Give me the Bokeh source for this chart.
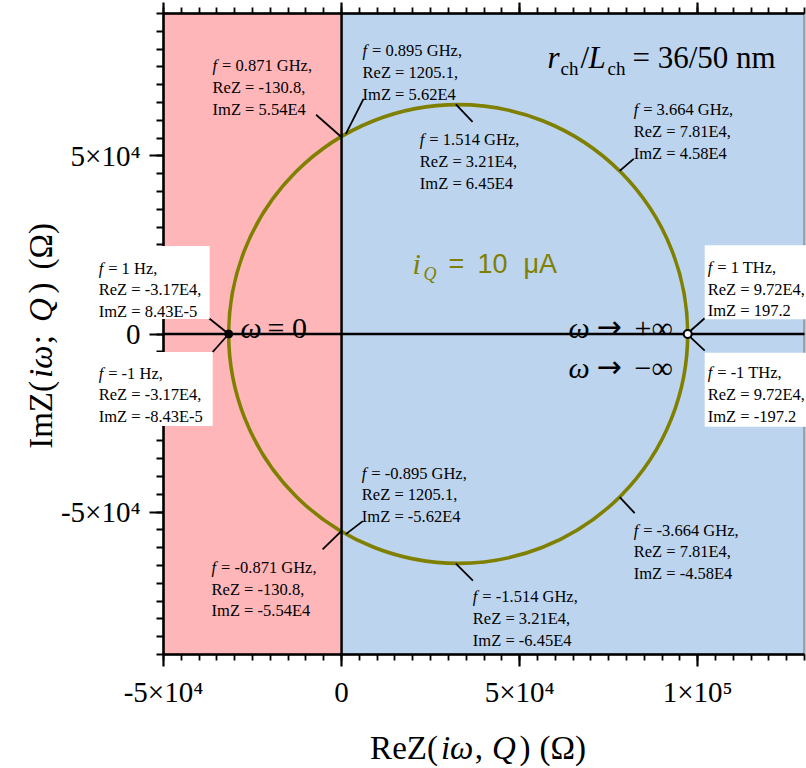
from math import pi
from bokeh.plotting import figure
from bokeh.models import Range1d, LinearAxis, FixedTicker, BoxAnnotation, Label
from bokeh.embed import file_html
from bokeh.resources import INLINE

# ---------------- data ----------------
freq_labels = ["0.871 GHz", "0.895 GHz", "1.514 GHz", "3.664 GHz",
               "1 Hz", "-1 Hz", "1 THz", "-1 THz",
               "-0.871 GHz", "-0.895 GHz", "-1.514 GHz", "-3.664 GHz"]
re_z = [-130.8, 1205.1, 3.21e4, 7.81e4,
        -3.17e4, -3.17e4, 9.72e4, 9.72e4,
        -130.8, 1205.1, 3.21e4, 7.81e4]
im_z = [5.54e4, 5.62e4, 6.45e4, 4.58e4,
        8.43e-5, -8.43e-5, 197.2, -197.2,
        -5.54e4, -5.62e4, -6.45e4, -4.58e4]
re_z_text = ["-130.8", "1205.1", "3.21E4", "7.81E4",
             "-3.17E4", "-3.17E4", "9.72E4", "9.72E4",
             "-130.8", "1205.1", "3.21E4", "7.81E4"]
im_z_text = ["5.54E4", "5.62E4", "6.45E4", "4.58E4",
             "8.43E-5", "-8.43E-5", "197.2", "-197.2",
             "-5.54E4", "-5.62E4", "-6.45E4", "-4.58E4"]
re_omega_zero = -3.17e4   # omega = 0 end of the loop
re_omega_inf = 9.72e4     # omega -> +/- infinity end of the loop

x_ticks = [-5e4, 0, 5e4, 1e5]
x_tick_labels = ["-5×10⁴", "0", "5×10⁴", "1×10⁵"]
y_ticks = [-5e4, 0, 5e4]
y_tick_labels = ["-5×10⁴", "0", "5×10⁴"]
x_minor = [-5e4 + 5e3 * k for k in range(37)]
y_minor = [-9e4 + 5e3 * k for k in range(37)]

# ---------------- layout ----------------
W, H = 806, 768
FL, FT = 163, 13          # pixel position of the plot box's top-left corner
FW, FH = 641, 641         # pixel size of the plot box
X0, X1, Y0, Y1 = -5e4, 1.3e5, -9e4, 9e4   # visible axis limits
SX = FW / (X1 - X0)
SY = FH / (Y1 - Y0)


def X(px):
    return X0 + (px - FL) / SX


def Y(py):
    return Y1 - (py - FT) / SY


SERIF = "Liberation Serif"
SANS = "Liberation Sans"
OLIVE = "#808000"
PINK = "#FFB6B9"
BLUE = "#BDD4EE"

# the frame covers the whole canvas; axes are pinned at the plot-box edges
p = figure(width=W, height=H, x_range=Range1d(X(0), X(W)), y_range=Range1d(Y(H), Y(0)),
           output_backend="svg", toolbar_location=None,
           min_border_left=0, min_border_right=0, min_border_top=0, min_border_bottom=0)
p.grid.visible = False
p.outline_line_color = None
p.background_fill_color = "white"
p.border_fill_color = "white"


def style_axis(ax, ticker, labels, tick_out, minor_out):
    ax.ticker = ticker
    ax.major_label_overrides = labels
    ax.axis_line_color = "black"
    ax.axis_line_width = 2.5
    ax.major_tick_in = 0
    ax.major_tick_out = tick_out
    ax.minor_tick_in = 0
    ax.minor_tick_out = minor_out
    ax.major_tick_line_width = 2.2
    ax.minor_tick_line_width = 1.8
    ax.major_tick_line_color = "black"
    ax.minor_tick_line_color = "black"
    ax.major_label_text_font = SERIF
    ax.major_label_text_font_size = "29px"
    ax.major_label_text_color = "black"
    ax.major_label_standoff = 9
    ax.axis_label = None


xt = FixedTicker(ticks=x_ticks, minor_ticks=x_minor)
yt = FixedTicker(ticks=y_ticks, minor_ticks=y_minor)
xa = p.xaxis[0]
ya = p.yaxis[0]
style_axis(xa, xt, dict(zip(x_ticks, x_tick_labels)), 12, 6)
style_axis(ya, yt, dict(zip(y_ticks, y_tick_labels)), 14, 7)
xa.fixed_location = Y0
xa.bounds = (X0, X1)
ya.fixed_location = X0
ya.bounds = (Y0, Y1)

top = LinearAxis()
style_axis(top, FixedTicker(ticks=x_ticks, minor_ticks=x_minor), {t: "" for t in x_ticks}, 11, 6)
top.major_label_text_font_size = "0px"
top.major_label_standoff = 0
top.fixed_location = Y1
top.bounds = (X0, X1)
p.add_layout(top, "above")

# background halves
p.add_layout(BoxAnnotation(left=X0, right=0, bottom=Y0, top=Y1, fill_color=PINK,
                           fill_alpha=1, line_color=None, level="underlay"))
p.add_layout(BoxAnnotation(left=0, right=X1, bottom=Y0, top=Y1, fill_color=BLUE,
                           fill_alpha=1, line_color=None, level="underlay"))

# the impedance loop (circle through the omega=0 and omega->inf ends)
cx = (re_omega_zero + re_omega_inf) / 2
rad = (re_omega_inf - re_omega_zero) / 2
p.circle(x=[cx], y=[0.0], radius=rad, fill_color=None, line_color=OLIVE, line_width=3.6)

# axes through the origin
p.segment(x0=[X0, 0], y0=[0, Y0], x1=[X1, 0], y1=[0, Y1], line_color="black", line_width=2.5)

# annotation layout (pixel offsets from the marked point, y pointing down)
text_off = [(-128.5, -71), (16.7, -83), (-36, 35.6), (14, -61),
            (-130, -66), (-130, 39), (20, -66), (20, 38),
            (-129.5, 36), (16, -61), (17, 33), (14, 33)]
leader_end = [(-25, -22), (17.7, -35), (16.7, 17.6), (14, -12),
              (-20, -16), (-16, 18), (17, -15), (17, 16),
              (-18.5, 18), (17, -13), (17, 17), (15, 16)]
boxes = {4: (-146, -19, -88, -15), 5: (-146, -16, 18, 92),
         6: (17, 125, -88, -14), 7: (17, 125, 18, 92)}
LH = 21.8

p.segment(x0=re_z, y0=im_z,
          x1=[r + e[0] / SX for r, e in zip(re_z, leader_end)],
          y1=[i - e[1] / SY for i, e in zip(im_z, leader_end)],
          line_color="black", line_width=1.8)

p.scatter(x=[re_omega_inf], y=[0.0], size=8, fill_color="white", line_color="black", line_width=2)
p.scatter(x=[re_omega_zero], y=[0.0], size=8, fill_color="black", line_color="black")

# plot box outline
p.add_layout(BoxAnnotation(left=X0, right=X1, bottom=Y0, top=Y1, fill_alpha=0,
                           line_color="black", line_width=2.5, level="annotation"))

# white boxes behind the +/-1 Hz and +/-1 THz labels
for idx, (l, r, t, b) in boxes.items():
    p.add_layout(BoxAnnotation(left=re_z[idx] + l / SX, right=re_z[idx] + r / SX,
                               top=im_z[idx] - t / SY, bottom=im_z[idx] - b / SY,
                               fill_color="white", fill_alpha=1, line_color=None,
                               level="annotation"))


def add_text(x, y, text, size, style="normal", font=SERIF, color="black", angle=0.0):
    p.add_layout(Label(x=x, y=y, text=text, text_font=font, text_font_size=size,
                       text_font_style=style, text_color=color, text_align="left",
                       text_baseline="alphabetic", angle=angle))


FS = "16.5px"
for i in range(len(freq_labels)):
    dx, dy = text_off[i]
    x0 = re_z[i] + dx / SX
    y1 = im_z[i] - dy / SY
    add_text(x0, y1, "f", FS, "italic")
    add_text(x0 + 9.5 / SX, y1, "= " + freq_labels[i] + ",", FS)
    add_text(x0, im_z[i] - (dy + LH) / SY, "ReZ = " + re_z_text[i] + ",", FS)
    add_text(x0, im_z[i] - (dy + 2 * LH) / SY, "ImZ = " + im_z_text[i], FS)

# r_ch / L_ch label
add_text(X(547), Y(57), "r", "31px", "italic")
add_text(X(560), Y(68), "ch", "19px")
add_text(X(580), Y(57), "/", "31px")
add_text(X(588), Y(57), "L", "31px", "italic")
add_text(X(607), Y(68), "ch", "19px")
add_text(X(632), Y(57), "= 36/50 nm", "31px")

# i_Q label
add_text(X(412), Y(263), "i", "30px", "italic", color=OLIVE)
add_text(X(423), Y(273), "Q", "18px", "italic", color=OLIVE)
add_text(X(448), Y(263), "=", "27px", font=SANS, color=OLIVE)
add_text(X(477), Y(263), "10", "27px", font=SANS, color=OLIVE)
add_text(X(523), Y(263), "μA", "27px", font=SANS, color=OLIVE)

# omega labels
add_text(X(240), Y(327), "ω", "30px", "italic")
add_text(X(267), Y(327), "= 0", "30px")
for base, sign in ((327, "+∞"), (367, "−∞")):
    add_text(X(568), Y(base), "ω", "30px", "italic")
    add_text(X(596), Y(base - 1), "→", "30px", font="DejaVu Sans")
    add_text(X(634), Y(base), sign, "30px")

# axis titles built from upright / italic pieces (widths in 1/1000 em)
TS = 33.0
pieces_x = [("ReZ(", "normal", 2055), ("iω", "italic", 945 + 50), (",", "normal", 250),
            ("Q", "italic", 722 + 50), (")", "normal", 333), ("(Ω)", "normal", 1436)]
gaps_x = [3, 1, 9, 2, 9, 0]
total = sum(w for _, _, w in pieces_x) * TS / 1000 + sum(gaps_x)
cur = 478 - total / 2
for (txt, st, w), g in zip(pieces_x, gaps_x):
    add_text(X(cur), Y(747), txt, "33px", st)
    cur += w * TS / 1000 + g

pieces_y = [("ImZ(", "normal", 2055), ("iω", "italic", 945 + 50), (";", "normal", 278),
            ("Q", "italic", 722 + 50), (")", "normal", 333), ("(Ω)", "normal", 1436)]
gaps_y = [3, 1, 13, 3, 13, 0]
total = sum(w for _, _, w in pieces_y) * TS / 1000 + sum(gaps_y)
cur = 335 + total / 2
for (txt, st, w), g in zip(pieces_y, gaps_y):
    add_text(X(40), Y(cur), txt, "33px", st, angle=pi / 2)
    cur -= w * TS / 1000 + g

open("out.html", "w").write(file_html(p, INLINE))
